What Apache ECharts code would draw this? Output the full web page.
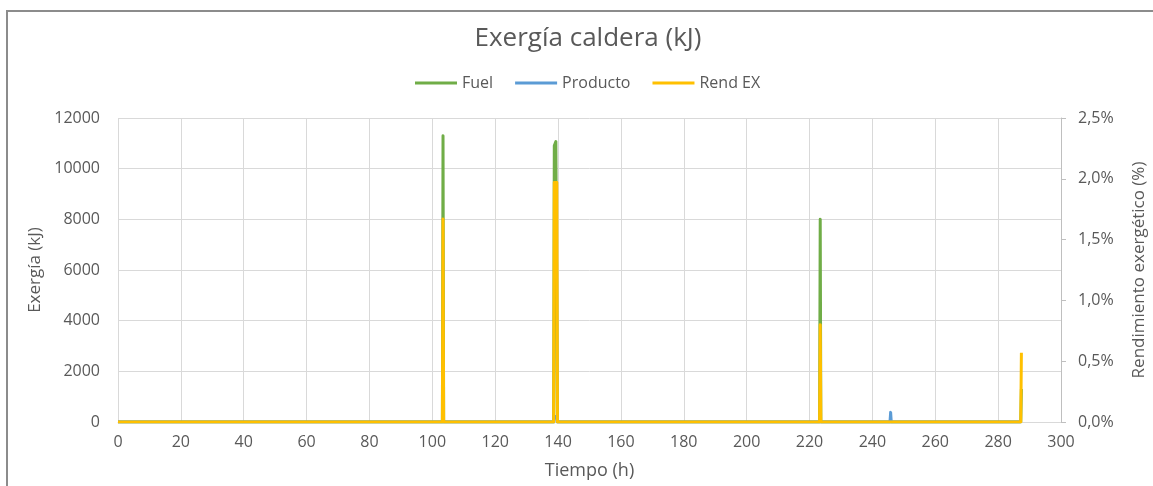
<!DOCTYPE html>
<html>
<head>
<meta charset="utf-8">
<title>Exergía caldera (kJ)</title>
<script src="https://cdn.jsdelivr.net/npm/echarts@6/dist/echarts.min.js"></script>
<style>
  html, body { margin: 0; padding: 0; background: #ffffff; }
  #chart { width: 1153px; height: 486px; }
</style>
</head>
<body>
<div id="chart"></div>
<script>
// Time samples (h) and the three measured series of the boiler
const tiempo   = [0, 103.2, 103.4, 103.6, 138.6, 138.8, 139.2, 139.3, 139.6, 139.8, 223.2, 223.4, 223.6, 245.6, 245.8, 246.0, 287.2, 287.4];
const fuel     = [0, 0, 11300, 0, 0, 10900, 10900, 11070, 11070, 0, 0, 8000, 0, 0, 0, 0, 0, 1300];
const producto = [0, 0, 189, 0, 0, 215, 215, 218, 218, 0, 0, 64, 0, 0, 380, 0, 0, 7];
const rendEx   = [0, 0, 1.67, 0, 0, 1.97, 1.97, 1.97, 1.97, 0, 0, 0.80, 0, 0, 0, 0, 0, 0.57];

const seriesNames = ['Fuel', 'Producto', 'Rend EX'];
const seriesColors = ['#70AD47', '#5B9BD5', '#FFC000'];

const FONT = '"Open Sans", Lato, sans-serif';
const TXT = '#595959';

function pairs(values) {
  return tiempo.map((t, i) => [t, values[i]]);
}

function lineSeries(idx, values, yAxisIndex) {
  return {
    name: seriesNames[idx],
    type: 'line',
    yAxisIndex: yAxisIndex,
    data: pairs(values),
    showSymbol: false,
    symbol: 'none',
    animation: false,
    lineStyle: { color: seriesColors[idx], width: 3, join: 'round' },
    itemStyle: { color: seriesColors[idx] }
  };
}

const chart = echarts.init(document.getElementById('chart'), null, { renderer: 'canvas' });

chart.setOption({
  animation: false,
  backgroundColor: '#ffffff',
  textStyle: { fontFamily: FONT },
  title: {
    text: 'Exergía caldera (kJ)',
    left: 583,
    top: 21,
    textAlign: 'center',
    textStyle: { fontFamily: FONT, fontSize: 26, fontWeight: 'normal', color: TXT }
  },
  legend: {
    left: 410,
    top: 70,
    itemWidth: 42,
    itemHeight: 3,
    itemGap: 22,
    icon: 'rect',
    data: seriesNames,
    textStyle: { fontFamily: FONT, fontSize: 16, color: TXT }
  },
  graphic: [{
    type: 'rect',
    shape: { x: 7, y: 11, width: 1160, height: 490 },
    style: { fill: 'none', stroke: '#8c8c8c', lineWidth: 2 },
    silent: true,
    z: 100
  }],
  grid: {
    left: 118, right: 92, top: 118, bottom: 64,
    containLabel: false,
    outerBoundsMode: 'none'
  },
  xAxis: {
    type: 'value',
    min: 0,
    max: 300,
    interval: 20,
    name: 'Tiempo (h)',
    nameLocation: 'middle',
    nameGap: 40,
    nameTextStyle: { fontFamily: FONT, fontSize: 18, color: TXT },
    axisLine: { show: true, lineStyle: { color: '#d9d9d9', width: 1 } },
    axisTick: { show: false },
    axisLabel: { fontFamily: FONT, fontSize: 16, color: TXT, margin: 12 },
    splitLine: { show: true, lineStyle: { color: '#d9d9d9', width: 1 } }
  },
  yAxis: [{
    type: 'value',
    min: 0,
    max: 12000,
    interval: 2000,
    position: 'left',
    name: 'Exergía (kJ)',
    nameLocation: 'middle',
    nameRotate: 90,
    nameGap: 74,
    nameTextStyle: { fontFamily: FONT, fontSize: 17, color: TXT },
    axisLine: { show: false },
    axisTick: { show: false },
    axisLabel: { fontFamily: FONT, fontSize: 16, color: TXT, margin: 18, formatter: v => String(v) },
    splitLine: { show: true, lineStyle: { color: '#d9d9d9', width: 1 } }
  }, {
    type: 'value',
    min: 0,
    max: 2.5,
    interval: 0.5,
    position: 'right',
    name: 'Rendimiento exergético (%)',
    nameLocation: 'middle',
    nameRotate: 90,
    nameGap: 70,
    nameTextStyle: { fontFamily: FONT, fontSize: 17, color: TXT },
    axisLine: { show: true, lineStyle: { color: '#bfbfbf', width: 1 } },
    axisTick: { show: true, inside: false, length: 5, lineStyle: { color: '#bfbfbf' } },
    axisLabel: {
      fontFamily: FONT, fontSize: 16, color: TXT, margin: 17,
      formatter: v => v.toFixed(1).replace('.', ',') + '%'
    },
    splitLine: { show: false }
  }],
  series: [
    lineSeries(0, fuel, 0),
    lineSeries(1, producto, 0),
    lineSeries(2, rendEx, 1)
  ]
});
</script>
</body>
</html>
